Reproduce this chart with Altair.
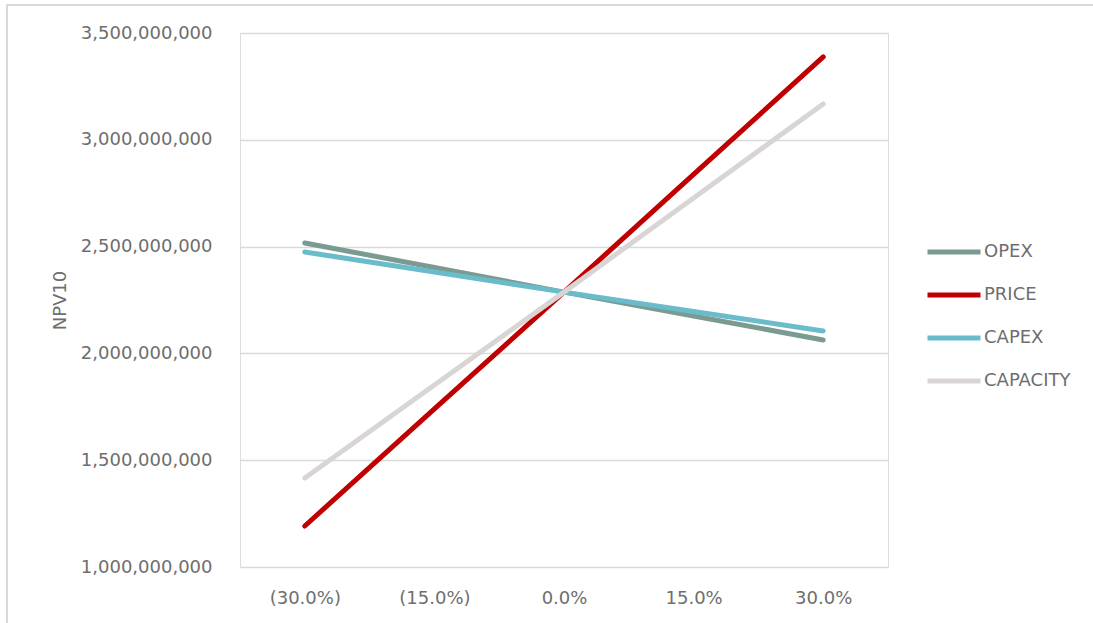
import altair as alt
import pandas as pd

categories = ["(30.0%)", "(15.0%)", "0.0%", "15.0%", "30.0%"]
series_names = ["OPEX", "PRICE", "CAPEX", "CAPACITY"]
opex = [2517e6, 2402e6, 2287e6, 2175e6, 2063e6]
price = [1192e6, 1740e6, 2287e6, 2838e6, 3388e6]
capex = [2475e6, 2381e6, 2287e6, 2196e6, 2105e6]
capacity = [1417e6, 1852e6, 2287e6, 2728e6, 3168e6]
colors = ["#7B9B92", "#C00000", "#6BBCCB", "#D9D5D5"]

rows = []
for name, vals in zip(series_names, [opex, price, capex, capacity]):
    for i, (c, v) in enumerate(zip(categories, vals)):
        rows.append({"Sensitivity": c, "NPV10": v, "Series": name, "order": series_names.index(name)})
df = pd.DataFrame(rows)

FONT = "DejaVu Sans"
TXT = "#6e6e6e"

lines = alt.Chart(df).mark_line(strokeWidth=5, strokeCap="round").encode(
    x=alt.X("Sensitivity:O", sort=categories, scale=alt.Scale(type="point", padding=0.5),
            axis=alt.Axis(title=None, labelAngle=0, ticks=False, domain=False, grid=False,
                          labelPadding=22, labelFontSize=18, labelColor=TXT, labelFont=FONT)),
    y=alt.Y("NPV10:Q", scale=alt.Scale(domain=[1e9, 3.5e9], nice=False, zero=False),
            axis=alt.Axis(title="NPV10", values=[1e9, 1.5e9, 2e9, 2.5e9, 3e9, 3.5e9], format=",.0f",
                          ticks=False, domain=False, grid=True, gridColor="#d9d9d9", gridWidth=1.3,
                          labelPadding=28, labelFontSize=18, labelColor=TXT, labelFont=FONT,
                          titleFontSize=18, titleColor=TXT, titleFont=FONT, titleFontWeight="normal",
                          titleX=-180, titleY=267, titleAlign="center", titleBaseline="middle")),
    color=alt.Color("Series:N", sort=series_names,
                    scale=alt.Scale(domain=series_names, range=colors),
                    legend=alt.Legend(title=None, orient="none", legendX=685, legendY=190,
                                      symbolType="stroke", symbolStrokeWidth=5, symbolSize=2809,
                                      labelFontSize=18, labelColor=TXT, labelFont=FONT,
                                      labelOffset=1, rowPadding=4)),
    order=alt.Order("order:Q"),
)

border = alt.Chart(df).mark_rect(fill=None, stroke="#d9d9d9", strokeWidth=1.5).encode(
    x=alt.value(-233), x2=alt.value(900), y=alt.value(-28), y2=alt.value(700)
)

chart = alt.layer(border, lines).properties(
    width=648, height=534,
    autosize=alt.AutoSizeParams(type="none"),
    padding={"left": 240, "top": 33, "right": 205, "bottom": 56},
).configure_view(stroke=None).configure(background="white")

chart.save("out.html", embed_options={"renderer": "svg", "actions": False})
